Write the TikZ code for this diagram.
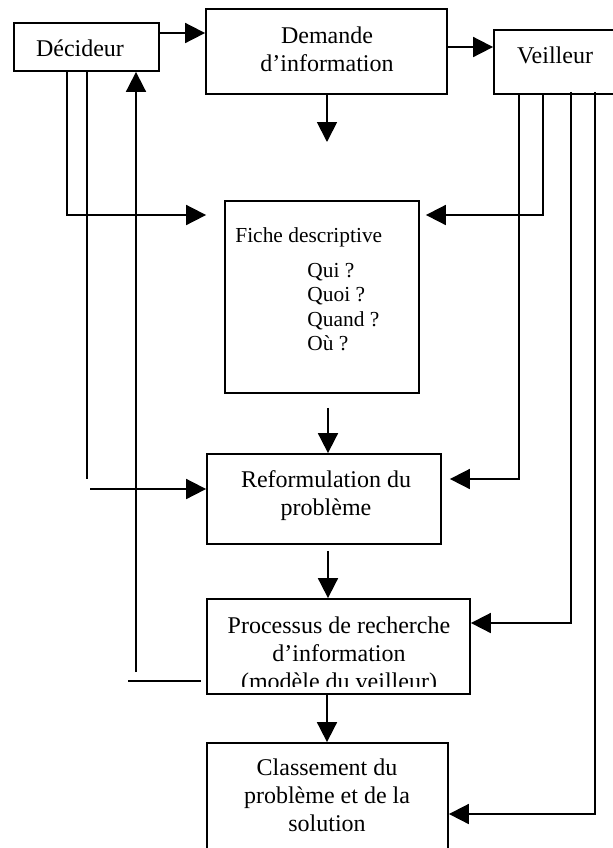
\documentclass[tikz,border=0pt]{standalone}
\usepackage{fontspec}
\setmainfont{Liberation Serif}
\usetikzlibrary{arrows.meta}
\begin{document}
\begin{tikzpicture}[x=0.5pt,y=-0.5pt,
  box/.style={draw, line width=0.9pt, inner sep=0pt},
  ln/.style={line width=0.9pt},
  arr/.style={line width=0.9pt, -{Triangle[length=10pt,width=10pt]}},
  txt/.style={font=\fontsize{12pt}{14pt}\selectfont, align=center, inner sep=0pt},
  ftxt/.style={font=\fontsize{10.7pt}{12.5pt}\selectfont, inner sep=0pt}]
\clip (0,0) rectangle (613,848);
% boxes
\node[box, minimum width=72.5pt, minimum height=24pt] (dec) at (86.5,47) {};
\node[box, minimum width=120.5pt, minimum height=42.5pt] (dem) at (326.5,51.5) {};
\node[box, minimum width=83pt, minimum height=32pt] (veil) at (577,62) {};
\node[box, minimum width=97pt, minimum height=96pt] (fiche) at (322,297) {};
\node[box, minimum width=117pt, minimum height=45pt] (ref) at (324,499) {};
\node[box, minimum width=131.5pt, minimum height=47.5pt] (proc) at (338.5,646.5) {};
\node[box, minimum width=120.5pt, minimum height=78.5pt] (cls) at (327.5,821.5) {};
% texts
\node[txt, anchor=base] (tdec) at (80,56) {Décideur};
\node[txt] (tdem) at (327,49) {Demande\\d’information};
\node[txt, anchor=base] (tveil) at (555,63) {Veilleur};
\node[ftxt, anchor=base west] (tf0) at (235,242) {Fiche descriptive};
\node[ftxt, anchor=base west] (tf1) at (307,277) {Qui ?};
\node[ftxt, anchor=base west] (tf2) at (307,301) {Quoi ?};
\node[ftxt, anchor=base west] (tf3) at (307,326) {Quand ?};
\node[ftxt, anchor=base west] (tf4) at (307,350) {Où ?};
\node[txt] (tref) at (326,496) {Reformulation du\\problème};
\begin{scope}
\clip (207,599) rectangle (470,686);
\node[txt] (tproc) at (339,656) {Processus de recherche\\d’information\\(modèle du veilleur)};
\end{scope}
\node[txt] (tcls) at (327,795) {Classement du\\problème et de la\\solution};
% top connectors
\draw[arr] (dec.east |- 0,33) -- (dem.west |- 0,33);
\draw[arr] (dem.east |- 0,47) -- (veil.west |- 0,47);
\coordinate (demend) at (327,142);
\draw[arr] (dem.south -| demend) -- (demend);
% left side
\draw[arr, shorten >=9pt] (dec.south -| 67,0) |- (fiche.west |- 0,215);
\coordinate (l2end) at (87,479);
\draw[ln] (dec.south -| l2end) -- (l2end);
\coordinate (l2start) at (90,489);
\draw[arr] (l2start) -- (ref.west |- l2start);
\coordinate (l3start) at (136,672);
\draw[arr] (l3start) -- (dec.south -| l3start);
\coordinate (l4start) at (128,681);
\draw[ln, shorten >=2.5pt] (l4start) -- (proc.west |- l4start);
% right side
\draw[arr, shorten >=3pt] (veil.south -| 543,0) |- (fiche.east |- 0,215);
\draw[arr, shorten >=4pt] (veil.south -| 519,0) |- (ref.east |- 0,479);
\draw[arr, shorten <=-1.5pt] (veil.south -| 571,0) |- (proc.east |- 0,623);
\draw[arr, shorten <=-1.5pt] (veil.south -| 595,0) |- (cls.east |- 0,814);
% central flow
\draw[arr, shorten <=7pt] (fiche.south -| 328,0) -- (ref.north -| 328,0);
\draw[arr, shorten <=3pt] (ref.south -| 328,0) -- (proc.north -| 328,0);
\draw[arr] (proc.south -| 327,0) -- (cls.north -| 327,0);
\end{tikzpicture}
\end{document}
